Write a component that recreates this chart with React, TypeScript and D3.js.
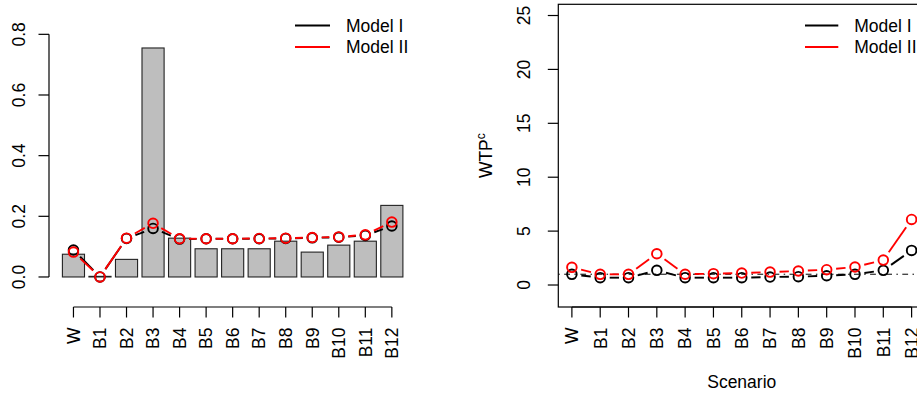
import React from "react";
import * as d3 from "d3";

// Scenario labels shared by both panels
const scenarios = ["W", "B1", "B2", "B3", "B4", "B5", "B6", "B7", "B8", "B9", "B10", "B11", "B12"];

// Left panel: bar heights and the two model curves
const barValues = [0.075, 0.002, 0.058, 0.755, 0.128, 0.093, 0.093, 0.093, 0.118, 0.082, 0.105, 0.118, 0.236];
const shareModelI = [0.089, 0.0, 0.127, 0.16, 0.125, 0.126, 0.126, 0.126, 0.127, 0.129, 0.131, 0.137, 0.168];
const shareModelII = [0.082, 0.0, 0.128, 0.177, 0.126, 0.126, 0.126, 0.127, 0.128, 0.13, 0.132, 0.139, 0.181];
const leftTicks = [0, 0.2, 0.4, 0.6, 0.8];

// Right panel: WTP for the two models
const wtpModelI = [0.99, 0.68, 0.68, 1.36, 0.68, 0.68, 0.68, 0.74, 0.77, 0.86, 0.99, 1.36, 3.21];
const wtpModelII = [1.64, 0.99, 0.99, 2.9, 1.0, 1.05, 1.11, 1.2, 1.3, 1.42, 1.67, 2.31, 6.08];
const rightTicks = [0, 5, 10, 15, 20, 25];
const referenceLevel = 1;

const legendLabels = ["Model I", "Model II"];
const seriesColors = ["#000000", "#ff0000"];

const FONT = "'Liberation Sans', Arial, Helvetica, sans-serif";
const FS = 17.5;
const TICK = 10.5;
const GAP = 9.5;
const R = 4.8;

type Pt = [number, number];

// Line segments between points, shortened at both ends (points-and-lines style)
function gappedSegments(pts: Pt[]) {
  const segs: [Pt, Pt][] = [];
  for (let i = 0; i < pts.length - 1; i++) {
    const [x1, y1] = pts[i];
    const [x2, y2] = pts[i + 1];
    const dx = x2 - x1;
    const dy = y2 - y1;
    const d = Math.hypot(dx, dy);
    if (d <= 2 * GAP) continue;
    const ux = dx / d;
    const uy = dy / d;
    segs.push([
      [x1 + ux * GAP, y1 + uy * GAP],
      [x2 - ux * GAP, y2 - uy * GAP],
    ]);
  }
  return segs;
}

function Series({ pts, color }: { pts: Pt[]; color: string }) {
  return (
    <g>
      {gappedSegments(pts).map((s, i) => (
        <line key={i} x1={s[0][0]} y1={s[0][1]} x2={s[1][0]} y2={s[1][1]} stroke={color} strokeWidth={1.9} />
      ))}
      {pts.map((p, i) => (
        <circle key={i} cx={p[0]} cy={p[1]} r={R} fill="none" stroke={color} strokeWidth={1.9} />
      ))}
    </g>
  );
}

function Legend({ x0, x1, tx }: { x0: number; x1: number; tx: number }) {
  const rows = [25.5, 47];
  return (
    <g>
      {legendLabels.map((lab, i) => (
        <g key={lab}>
          <line x1={x0} x2={x1} y1={rows[i]} y2={rows[i]} stroke={seriesColors[i]} strokeWidth={1.8} />
          <text x={tx} y={rows[i]} dy="0.36em" fontSize={FS} fontFamily={FONT} fill="#000">
            {lab}
          </text>
        </g>
      ))}
    </g>
  );
}

function XLabels({ xs, axisY }: { xs: number[]; axisY: number }) {
  return (
    <g>
      <line x1={xs[0]} x2={xs[xs.length - 1]} y1={axisY} y2={axisY} stroke="#000" strokeWidth={1.2} />
      {xs.map((x, i) => (
        <g key={scenarios[i]}>
          <line x1={x} x2={x} y1={axisY} y2={axisY + TICK} stroke="#000" strokeWidth={1.2} />
          <text
            transform={`translate(${x},${axisY + 20.5}) rotate(-90)`}
            textAnchor="end"
            dy="0.36em"
            fontSize={FS}
            fontFamily={FONT}
            fill="#000"
          >
            {scenarios[i]}
          </text>
        </g>
      ))}
    </g>
  );
}

export default function App() {
  const plotTop = 4.3;
  const plotBottom = 307;

  // Left panel scales
  const xL = d3
    .scaleBand<string>()
    .domain(scenarios)
    .range([62.4, 402.9])
    .paddingInner(0.2 / 1.2)
    .paddingOuter(0);
  const yL = d3.scaleLinear().domain([-0.099, 0.899]).range([plotBottom, plotTop]);
  const bw = xL.bandwidth();
  const cxL = scenarios.map((s) => (xL(s) as number) + bw / 2);
  const axisXL = 49;

  // Right panel scales
  const xR = d3.scaleLinear().domain([0.52, 13.48]).range([558.3, 925.2]);
  const yR = d3.scaleLinear().domain([-2.04, 26.04]).range([plotBottom, plotTop]);
  const cxR = scenarios.map((_, i) => xR(i + 1));

  const ptsL1: Pt[] = shareModelI.map((v, i) => [cxL[i], yL(v)]);
  const ptsL2: Pt[] = shareModelII.map((v, i) => [cxL[i], yL(v)]);
  const ptsR1: Pt[] = wtpModelI.map((v, i) => [cxR[i], yR(v)]);
  const ptsR2: Pt[] = wtpModelII.map((v, i) => [cxR[i], yR(v)]);

  const [rx0, rx1] = xR.range();
  const [ry0, ry1] = [yR.range()[1], yR.range()[0]];

  return (
    <svg
      width={917}
      height={394}
      style={{ position: "absolute", left: 0, top: 0, background: "#fff" }}
      fontFamily={FONT}
    >
      <rect x={0} y={0} width={917} height={394} fill="#fff" />

      {/* Left panel: bars */}
      {scenarios.map((s, i) => (
        <rect
          key={s}
          x={xL(s)}
          y={yL(barValues[i])}
          width={bw}
          height={yL(0) - yL(barValues[i])}
          fill="#bebebe"
          stroke="#222"
          strokeWidth={1.1}
        />
      ))}

      {/* Left panel: y axis */}
      <line x1={axisXL} x2={axisXL} y1={yL(leftTicks[0])} y2={yL(leftTicks[leftTicks.length - 1])} stroke="#000" strokeWidth={1.2} />
      {leftTicks.map((t) => (
        <g key={t}>
          <line x1={axisXL - TICK} x2={axisXL} y1={yL(t)} y2={yL(t)} stroke="#000" strokeWidth={1.2} />
          <text
            transform={`translate(24.5,${yL(t)}) rotate(-90)`}
            textAnchor="middle"
            fontSize={FS}
            fontFamily={FONT}
            fill="#000"
          >
            {d3.format(".1f")(t)}
          </text>
        </g>
      ))}

      <XLabels xs={cxL} axisY={plotBottom} />
      <Series pts={ptsL1} color={seriesColors[0]} />
      <Series pts={ptsL2} color={seriesColors[1]} />
      <Legend x0={295} x1={330} tx={346} />

      {/* Right panel */}
      <defs>
        <clipPath id="rightPlot">
          <rect x={rx0} y={ry0} width={rx1 - rx0} height={ry1 - ry0} />
        </clipPath>
      </defs>
      <line
        x1={rx0}
        x2={rx1}
        y1={yR(referenceLevel)}
        y2={yR(referenceLevel)}
        stroke="#000"
        strokeWidth={1}
        strokeDasharray="1.5,4.4,5.8,4.4"
        clipPath="url(#rightPlot)"
      />
      <Series pts={ptsR1} color={seriesColors[0]} />
      <Series pts={ptsR2} color={seriesColors[1]} />
      <rect x={rx0} y={ry0} width={rx1 - rx0} height={ry1 - ry0} fill="none" stroke="#000" strokeWidth={1.2} />

      {rightTicks.map((t) => (
        <g key={t}>
          <line x1={rx0 - TICK} x2={rx0} y1={yR(t)} y2={yR(t)} stroke="#000" strokeWidth={1.2} />
          <text
            transform={`translate(530,${yR(t)}) rotate(-90)`}
            textAnchor="middle"
            fontSize={FS}
            fontFamily={FONT}
            fill="#000"
          >
            {t}
          </text>
        </g>
      ))}
      <XLabels xs={cxR} axisY={plotBottom} />

      <text
        transform={`translate(492,${(plotTop + plotBottom) / 2}) rotate(-90)`}
        textAnchor="middle"
        fontSize={FS}
        fontFamily={FONT}
        fill="#000"
      >
        WTP
        <tspan fontSize={12} dy={-7}>
          c
        </tspan>
      </text>
      <text x={(rx0 + rx1) / 2} y={388} textAnchor="middle" fontSize={FS} fontFamily={FONT} fill="#000">
        Scenario
      </text>

      <Legend x0={805} x1={838.3} tx={854.3} />
    </svg>
  );
}
